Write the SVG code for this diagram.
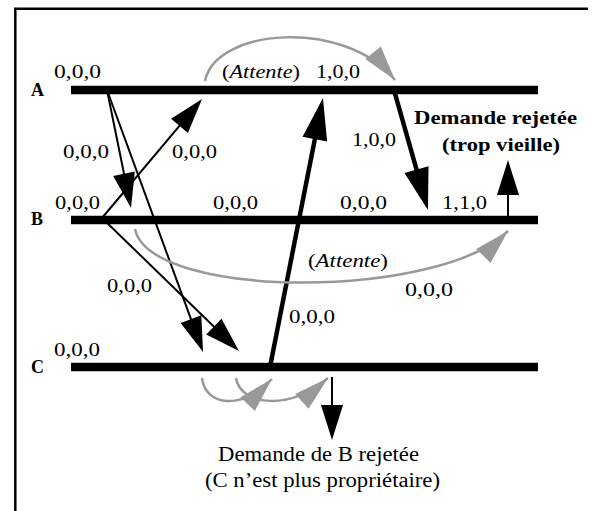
<svg xmlns="http://www.w3.org/2000/svg" width="593" height="511" viewBox="0 0 593 511">
  <style>
    .frame { fill: none; stroke: #000; stroke-width: 2.5; }
    .timeline { stroke: #000; stroke-width: 8.5; }
    .proc { font-family: "Liberation Serif", "Times New Roman", serif; font-weight: bold; font-size: 18px; fill: #000; }
    .lbl { font-family: "Liberation Serif", "Times New Roman", serif; font-size: 18px; fill: #000; }
    .note { font-family: "Liberation Serif", "Times New Roman", serif; font-size: 20px; fill: #000; }
    .bnote { font-family: "Liberation Serif", "Times New Roman", serif; font-weight: bold; font-size: 19px; fill: #000; }
    .thin { fill: none; stroke: #000; stroke-width: 2; marker-end: url(#head-thin); }
    .thick { fill: none; stroke: #000; stroke-width: 4.5; marker-end: url(#head-thick); }
    .wait { fill: none; stroke: #999; stroke-width: 2.5; marker-end: url(#head-gray); }
  </style>
  <defs>
    <marker id="head-thin" markerUnits="userSpaceOnUse" orient="auto" markerWidth="36" markerHeight="22" refX="25" refY="11" overflow="visible">
      <path d="M0,0 L35,11 L0,22 z" fill="#000"/>
    </marker>
    <marker id="head-thick" markerUnits="userSpaceOnUse" orient="auto" markerWidth="43" markerHeight="25" refX="22" refY="12.5" overflow="visible">
      <path d="M0,0 L42,12.5 L0,25 z" fill="#000"/>
    </marker>
    <marker id="head-gray" markerUnits="userSpaceOnUse" orient="auto" markerWidth="36" markerHeight="20" refX="35" refY="10" overflow="visible">
      <path d="M0,0 L35,10 L0,20 z" fill="#999"/>
    </marker>
  </defs>

  <rect width="593" height="511" fill="#fff"/>
  <path class="frame" d="M15.3,511 V8.7 H588"/>

  <!-- Process timelines -->
  <g id="process-A">
    <line class="timeline" x1="71" y1="90" x2="538" y2="90"/>
    <text class="proc" x="31" y="96">A</text>
  </g>
  <g id="process-B">
    <line class="timeline" x1="71" y1="220" x2="538" y2="220"/>
    <text class="proc" x="31" y="225">B</text>
  </g>
  <g id="process-C">
    <line class="timeline" x1="71" y1="367" x2="538" y2="367"/>
    <text class="proc" x="31" y="373">C</text>
  </g>

  <!-- Messages and waiting requests -->
  <g id="connectors">
    <line class="thin" x1="107" y1="90" x2="129" y2="198.2"/>
    <line class="thin" x1="107" y1="90" x2="199.6" y2="342.6"/>
    <line class="thin" x1="102" y1="218" x2="195.6" y2="106.7"/>
    <line class="thin" x1="102" y1="218" x2="231.8" y2="344"/>
    <line class="thick" x1="270" y1="367" x2="319.1" y2="117.6"/>
    <line class="thick" x1="394" y1="90" x2="422.5" y2="190.7"/>
    <line class="thin" x1="508" y1="216" x2="508" y2="170"/>
    <line class="thin" x1="332" y1="377" x2="332" y2="430"/>

    <path class="wait" d="M205,81 C215,28 345,18 395,80"/>
    <path class="wait" d="M135,229 C150,300 440,300 508,231"/>
    <path class="wait" d="M202,378 C205,405 240,412 272,379"/>
    <path class="wait" d="M236,378 C240,405 290,412 328,378"/>
  </g>

  <!-- Clock values and annotations -->
  <g id="labels">
    <text class="lbl" x="54" y="77.5" textLength="47" lengthAdjust="spacingAndGlyphs">0,0,0</text>
    <text class="lbl" x="222" y="78" textLength="78" lengthAdjust="spacingAndGlyphs">(<tspan font-style="italic">Attente</tspan>)</text>
    <text class="lbl" x="316" y="78" textLength="44" lengthAdjust="spacingAndGlyphs">1,0,0</text>
    <text class="lbl" x="63" y="158" textLength="46" lengthAdjust="spacingAndGlyphs">0,0,0</text>
    <text class="lbl" x="172" y="158" textLength="45" lengthAdjust="spacingAndGlyphs">0,0,0</text>
    <text class="lbl" x="352" y="146" textLength="44" lengthAdjust="spacingAndGlyphs">1,0,0</text>
    <text class="lbl" x="55" y="209" textLength="45" lengthAdjust="spacingAndGlyphs">0,0,0</text>
    <text class="lbl" x="213" y="209" textLength="45" lengthAdjust="spacingAndGlyphs">0,0,0</text>
    <text class="lbl" x="340" y="209" textLength="47" lengthAdjust="spacingAndGlyphs">0,0,0</text>
    <text class="lbl" x="442" y="209" textLength="45" lengthAdjust="spacingAndGlyphs">1,1,0</text>
    <text class="lbl" x="308" y="267" textLength="80" lengthAdjust="spacingAndGlyphs">(<tspan font-style="italic">Attente</tspan>)</text>
    <text class="lbl" x="405" y="296" textLength="48" lengthAdjust="spacingAndGlyphs">0,0,0</text>
    <text class="lbl" x="289" y="323" textLength="46" lengthAdjust="spacingAndGlyphs">0,0,0</text>
    <text class="lbl" x="107" y="292" textLength="45" lengthAdjust="spacingAndGlyphs">0,0,0</text>
    <text class="lbl" x="54" y="355.5" textLength="46" lengthAdjust="spacingAndGlyphs">0,0,0</text>

    <text class="bnote" x="414" y="124" textLength="163" lengthAdjust="spacingAndGlyphs">Demande rejetée</text>
    <text class="bnote" x="442" y="151" textLength="118" lengthAdjust="spacingAndGlyphs">(trop vieille)</text>

    <text class="note" x="218" y="460.5" textLength="201" lengthAdjust="spacingAndGlyphs">Demande de B rejetée</text>
    <text class="note" x="205" y="487" textLength="235" lengthAdjust="spacingAndGlyphs">(C n’est plus propriétaire)</text>
  </g>
</svg>
